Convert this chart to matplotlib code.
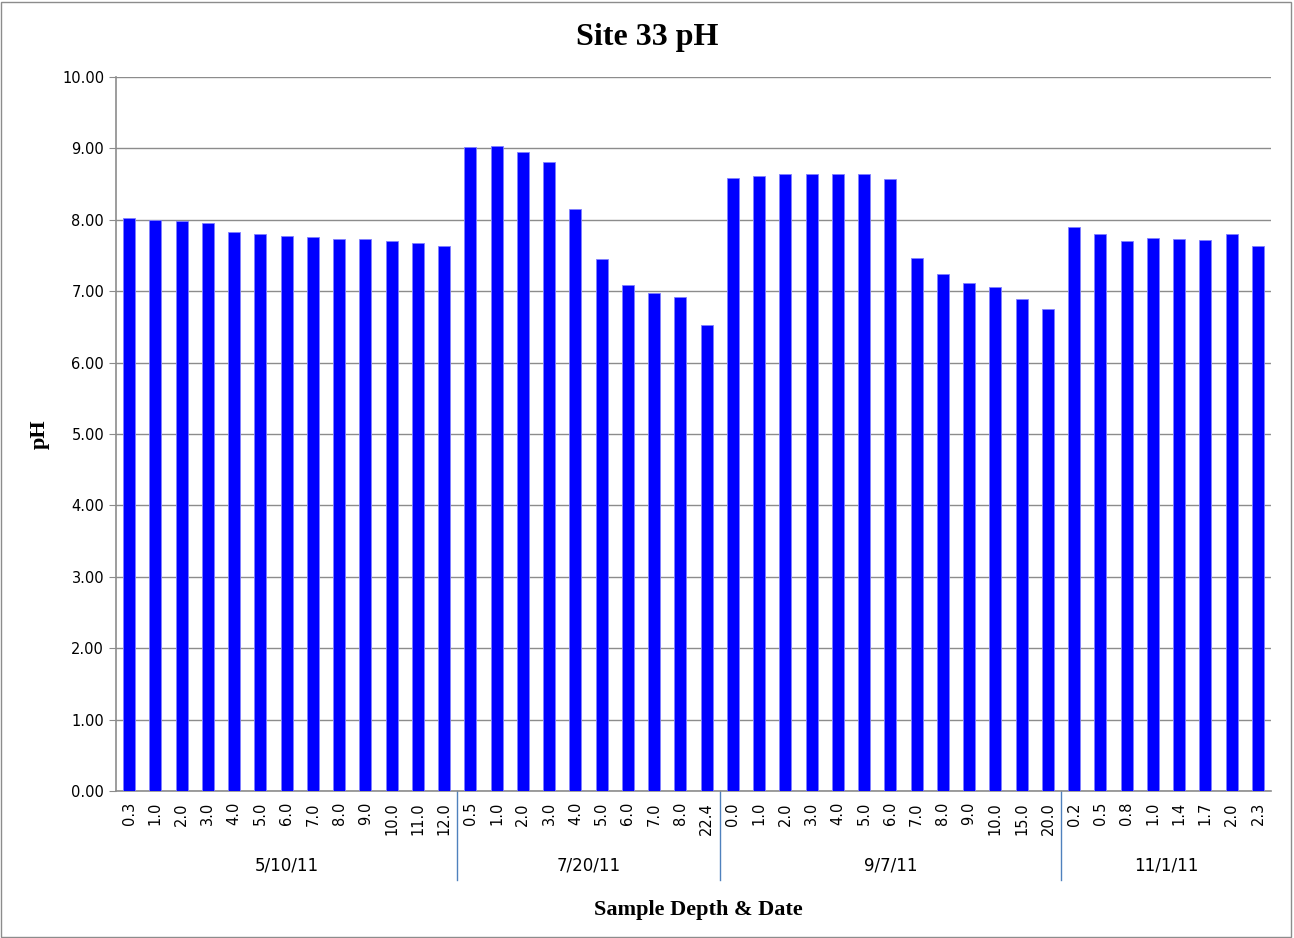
import numpy as np
import matplotlib.pyplot as plt

# Sample dates and depths (m) for each sampling trip
dates = ["5/10/11", "7/20/11", "9/7/11", "11/1/11"]
depths_0510 = ["0.3", "1.0", "2.0", "3.0", "4.0", "5.0", "6.0", "7.0", "8.0", "9.0", "10.0", "11.0", "12.0"]
depths_0720 = ["0.5", "1.0", "2.0", "3.0", "4.0", "5.0", "6.0", "7.0", "8.0", "22.4"]
depths_0907 = ["0.0", "1.0", "2.0", "3.0", "4.0", "5.0", "6.0", "7.0", "8.0", "9.0", "10.0", "15.0", "20.0"]
depths_1101 = ["0.2", "0.5", "0.8", "1.0", "1.4", "1.7", "2.0", "2.3"]

ph_0510 = [8.02, 8.00, 7.98, 7.95, 7.83, 7.80, 7.78, 7.76, 7.73, 7.73, 7.70, 7.67, 7.64]
ph_0720 = [9.02, 9.03, 8.95, 8.81, 8.15, 7.45, 7.09, 6.98, 6.92, 6.53]
ph_0907 = [8.59, 8.62, 8.64, 8.64, 8.64, 8.64, 8.57, 7.47, 7.24, 7.12, 7.06, 6.89, 6.75]
ph_1101 = [7.90, 7.80, 7.70, 7.74, 7.73, 7.72, 7.80, 7.64]

groups = [depths_0510, depths_0720, depths_0907, depths_1101]
values = ph_0510 + ph_0720 + ph_0907 + ph_1101
labels = depths_0510 + depths_0720 + depths_0907 + depths_1101

#-----------
fig = plt.figure(figsize=(12.94, 9.38), dpi=100)
ax = fig.add_axes([116/1294, 1 - 791/938, (1271-116)/1294, (791-77)/938])

x = np.arange(len(values))
ax.bar(x, values, width=0.46, color="#0000FF", edgecolor="#8080FF",
       linewidth=0.6, zorder=3)

ax.set_xlim(-0.5, len(values) - 0.5)
ax.set_ylim(0, 10)
ax.set_yticks(np.arange(0, 10.01, 1))
ax.set_yticklabels([f"{v:.2f}" for v in np.arange(0, 10.01, 1)])
ax.yaxis.grid(True, color="#8c8c8c", linewidth=1.0, zorder=0)
ax.tick_params(axis="y", length=5, color="#8c8c8c", labelsize=10.5, direction="out")

ax.set_xticks(x)
ax.set_xticklabels(labels, rotation=90, fontsize=10.5)
ax.tick_params(axis="x", length=0, pad=8)

for s in ["top", "right"]:
    ax.spines[s].set_visible(False)
for s in ["left", "bottom"]:
    ax.spines[s].set_color("#8c8c8c")
    ax.spines[s].set_linewidth(1.2)

# group separators and date labels
start = 0
for i, grp in enumerate(groups):
    end = start + len(grp)
    ax.text((start + end - 1) / 2., -1.04, dates[i], ha="center", va="center",
            fontsize=12, transform=ax.transData, clip_on=False)
    if i < len(groups) - 1:
        ax.plot([end - 0.5, end - 0.5], [0, -1.24], color="#4f81bd",
                linewidth=1.0, clip_on=False)
    start = end

fig.text(0.5, 1 - 37/938, "Site 33 pH", ha="center", va="center",
         fontsize=23, fontweight="bold", family="Liberation Serif")
fig.text(0.54, 1 - 910/938, "Sample Depth & Date", ha="center", va="center",
         fontsize=16, fontweight="bold", family="Liberation Serif")
fig.text(40/1294, 1 - 434/938, "pH", ha="center", va="center", rotation=90,
         fontsize=16, fontweight="bold", family="Liberation Serif")

# chart border
fig.patches.append(plt.Rectangle((0.001, 0.001), 0.997, 0.997, transform=fig.transFigure,
                                 fill=False, edgecolor="#8c8c8c", linewidth=1.0))

fig.savefig("out.png", dpi=100)
